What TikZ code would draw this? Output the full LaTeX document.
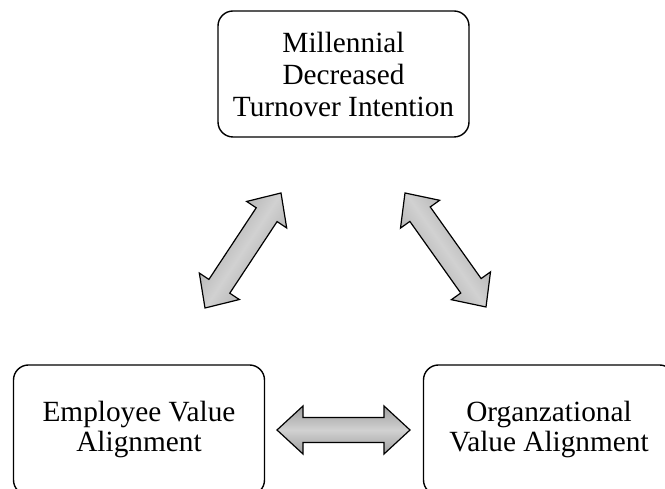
\documentclass[tikz,border=0pt]{standalone}
\usepackage{fontspec}
\setmainfont{Liberation Serif}
\usetikzlibrary{calc}
\tikzset{
  box/.style={draw=black, line width=1.4pt, rounded corners=15pt, align=center,
    minimum width=251pt, font=\fontsize{29.3}{31.5}\selectfont, inner sep=0pt},
  arrstyle/.style={draw=black, line width=1.2pt, line join=miter,
    top color=black!38, bottom color=black!38, middle color=black!18}
}
\newcommand{\hl}{26pt}
\newcommand{\hh}{24pt}
\newcommand{\hw}{12.5pt}
\newcommand{\blockarr}[3]{%
  \path ($(#1)!\hl!(#2)$) coordinate (p1) ($(#2)!\hl!(#1)$) coordinate (p2);
  \shadedraw[arrstyle, shading angle=#3] (#1) -- ($(p1)!\hh!90:(#2)$) -- ($(p1)!\hw!90:(#2)$)
    -- ($(p2)!\hw!90:(#2)$) -- ($(p2)!\hh!90:(#2)$) -- (#2)
    -- ($(p2)!\hh!-90:(#2)$) -- ($(p2)!\hw!-90:(#2)$)
    -- ($(p1)!\hw!-90:(#2)$) -- ($(p1)!\hh!-90:(#2)$) -- cycle;
}
\begin{document}
\begin{tikzpicture}[x=1pt,y=1pt]
\useasboundingbox (0,0) rectangle (665,489);
\clip (0,0) rectangle (665,489);
\node[box, minimum height=126pt, font=\fontsize{29.3}{32}\selectfont] (top) at (343.5,415) {Millennial\\Decreased\\Turnover Intention};
\node[box, minimum height=130pt, font=\fontsize{29.3}{30}\selectfont] (emp) at (139,59) {Employee Value\\Alignment};
\node[box, minimum height=130pt, font=\fontsize{29.3}{30}\selectfont] (org) at (549,59) {Organzational\\Value Alignment};
% arrow tips
\coordinate (l1) at (205,181);
\coordinate (l2) at (281,296);
\coordinate (r1) at (405,296);
\coordinate (r2) at (486,182);
\coordinate (h1) at (277,59);
\coordinate (h2) at (410,59);
\blockarr{l1}{l2}{56.5}
\blockarr{r1}{r2}{-55}
\blockarr{h1}{h2}{0}
\end{tikzpicture}
\end{document}
